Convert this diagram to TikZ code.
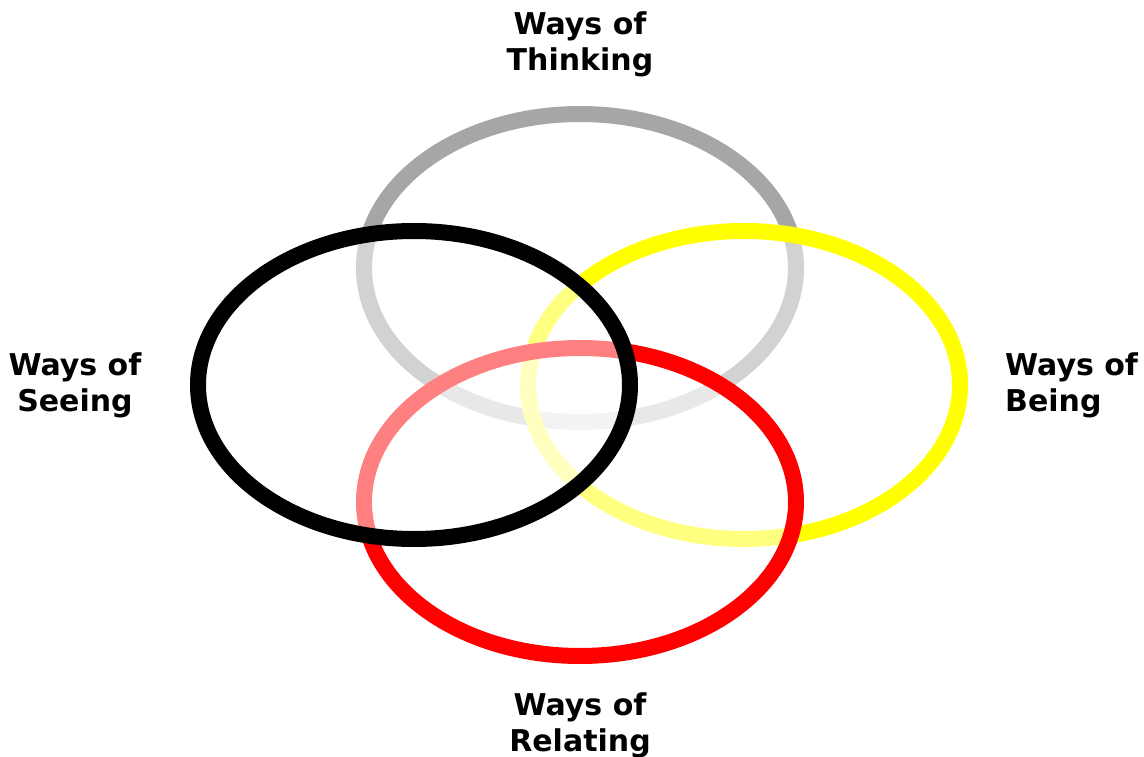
\documentclass[tikz,border=0pt]{standalone}
\usepackage{fontspec}
\setmainfont{DejaVu Sans}
\definecolor{ringgray}{HTML}{A6A6A6}
\definecolor{ringyellow}{HTML}{FFFF00}
\definecolor{ringred}{HTML}{FF0000}
\begin{document}
\begin{tikzpicture}[x=1pt,y=-1pt,
  ring/.style={line width=16pt, fill=white, fill opacity=0.5},
  lbl/.style={font=\fontsize{30}{36}\selectfont\bfseries, inner sep=0pt, text=black}]
\useasboundingbox[fill=white] (0,0) rectangle (1144,757);
% rings, bottom to top
\draw[ring, draw=ringgray]   (580,268) ellipse [x radius=216pt, y radius=154pt];
\draw[ring, draw=ringyellow] (744,385) ellipse [x radius=216pt, y radius=154pt];
\draw[ring, draw=ringred]    (580,502) ellipse [x radius=216pt, y radius=154pt];
\draw[ring, draw=black]      (414,385) ellipse [x radius=216pt, y radius=154pt];
% labels
\node[lbl, align=center, anchor=north] (thinking) at (580,12) {Ways of\\Thinking};
\node[lbl, align=center, anchor=north] (seeing)   at (75,353) {Ways of\\Seeing};
\node[lbl, align=left,   anchor=north west] (being) at (1005,353) {Ways of\\Being};
\node[lbl, align=center, anchor=north] (relating) at (580,693) {Ways of\\Relating};
\end{tikzpicture}
\end{document}
